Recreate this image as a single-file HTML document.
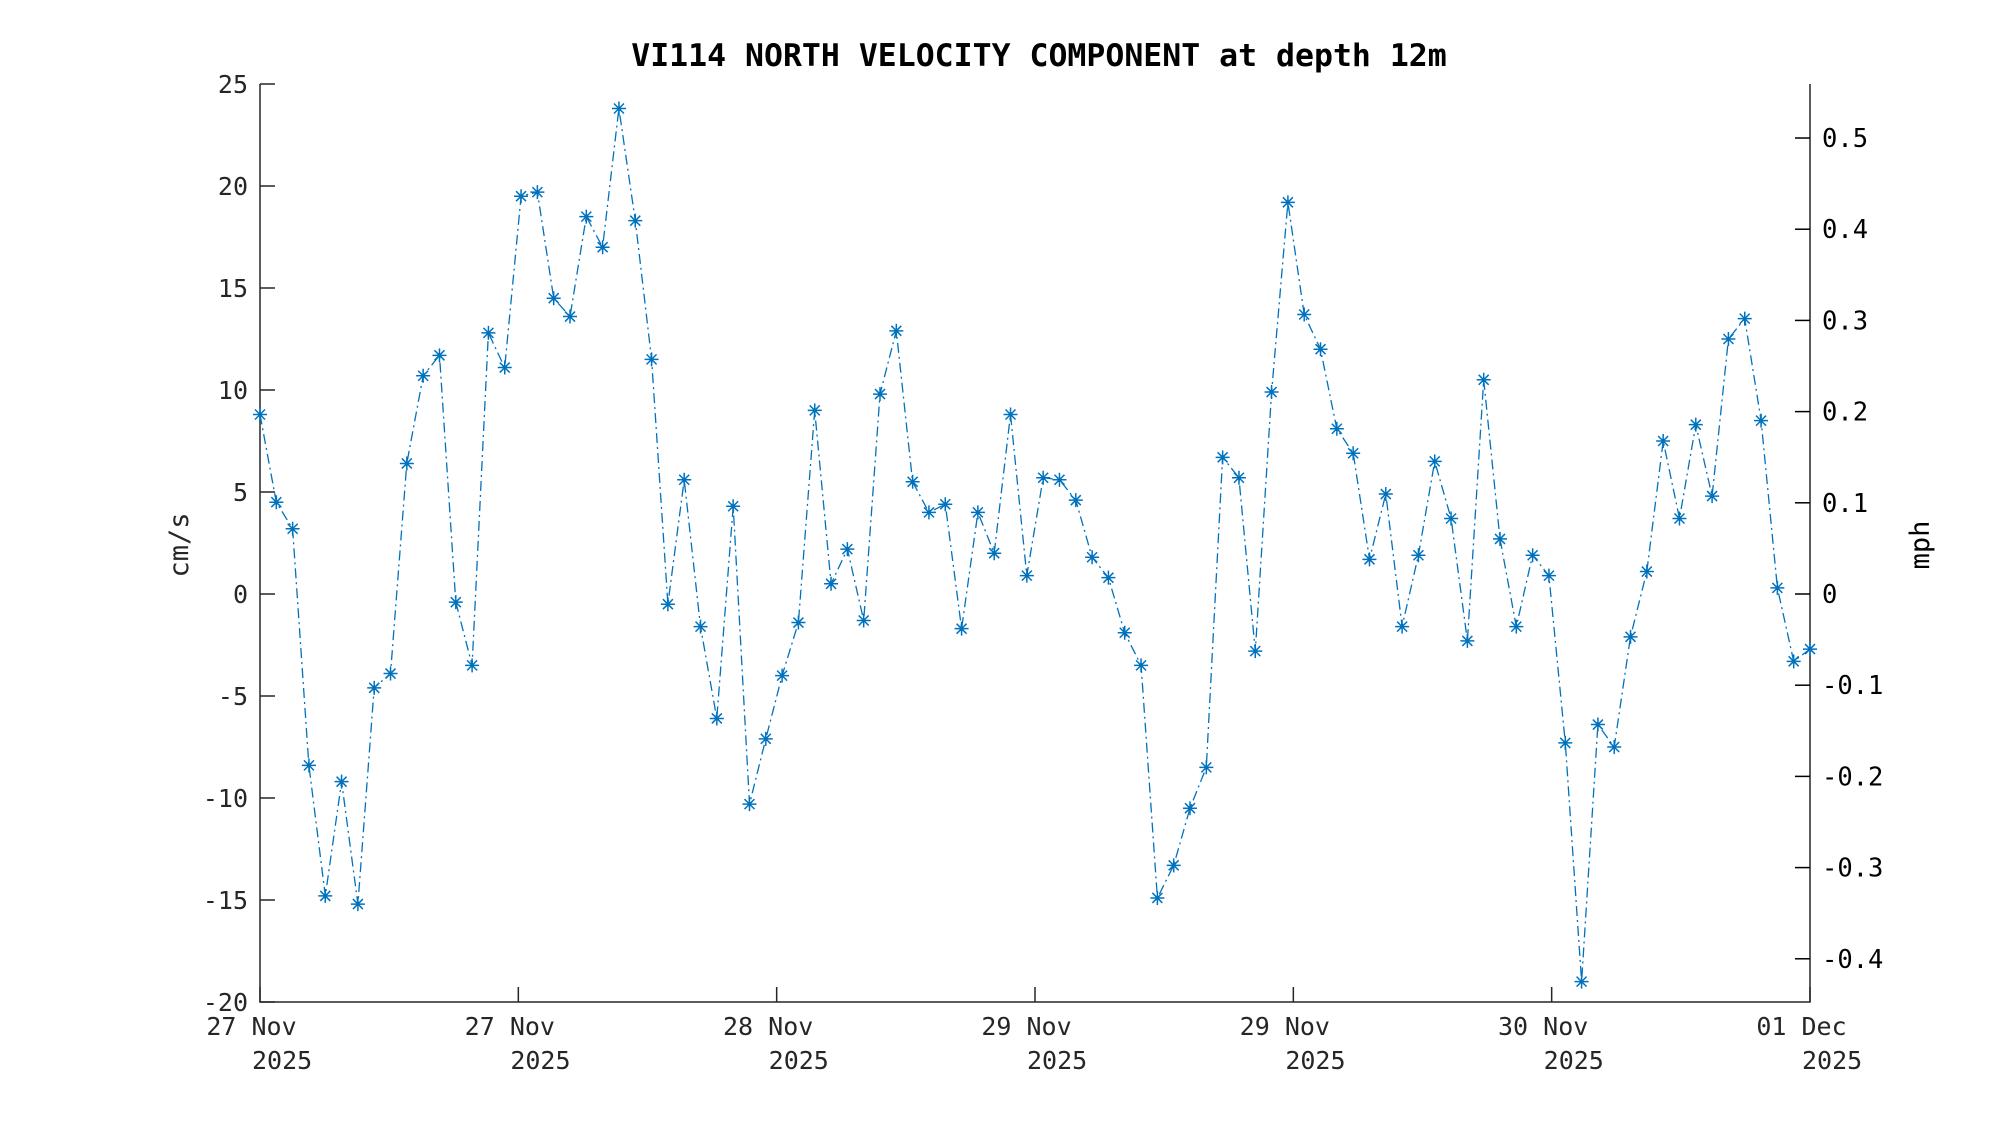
<!DOCTYPE html>
<html><head><meta charset="utf-8"><style>
html,body{margin:0;padding:0;background:#fff;}
svg text{font-family:"DejaVu Sans Mono","Liberation Mono",monospace;}
</style></head><body>
<svg id="s" width="2000" height="1125" xmlns="http://www.w3.org/2000/svg">
<rect width="2000" height="1125" fill="#fff"/>
<text x="1039" y="66" text-anchor="middle" font-size="31.5" font-weight="bold" fill="#000">VI114 NORTH VELOCITY COMPONENT at depth 12m</text>
<g id="g"></g>
</svg>
<script>
var L=260,R=1810,T=84,B=1002;
function Y(v){return T+(25-v)*(B-T)/45;}
var d=[8.8,4.5,3.2,-8.4,-14.8,-9.2,-15.2,-4.6,-3.9,6.4,10.7,11.7,-0.4,-3.5,12.8,11.1,19.5,19.7,14.5,13.6,18.5,17.0,23.8,18.3,11.5,-0.5,5.6,-1.6,-6.1,4.3,-10.3,-7.1,-4.0,-1.4,9.0,0.5,2.2,-1.3,9.8,12.9,5.5,4.0,4.4,-1.7,4.0,2.0,8.8,0.9,5.7,5.6,4.6,1.8,0.8,-1.9,-3.5,-14.9,-13.3,-10.5,-8.5,6.7,5.7,-2.8,9.9,19.2,13.7,12.0,8.1,6.9,1.7,4.9,-1.6,1.9,6.5,3.7,-2.3,10.5,2.7,-1.6,1.9,0.9,-7.3,-19.0,-6.4,-7.5,-2.1,1.1,7.5,3.7,8.3,4.8,12.5,13.5,8.5,0.3,-3.3,-2.7];
var h='';
h+='<path d="M'+L+' '+T+'V'+B+'H'+R+'V'+T+'" fill="none" stroke="#262626" stroke-width="1.5"/>';
for(var v=-20;v<=25;v+=5){var y=Y(v);h+='<line x1="'+L+'" x2="'+(L+15)+'" y1="'+y+'" y2="'+y+'" stroke="#262626" stroke-width="1.5"/>';
h+='<text x="'+(L-12)+'" y="'+(y+9)+'" text-anchor="end" font-size="25" fill="#262626">'+v+'</text>';}
var z=Y(0),k=4.4704*(B-T)/45;
for(var m=-4;m<=5;m++){var y=z-m*k;h+='<line x1="'+(R-15)+'" x2="'+R+'" y1="'+y+'" y2="'+y+'" stroke="#000" stroke-width="1.5"/>';
var s=m==0?'0':(m<0?'-':'')+'0.'+Math.abs(m);h+='<text x="'+(R+12)+'" y="'+(y+9)+'" font-size="25.5" fill="#000">'+s+'</text>';}
var lb=['27 Nov','27 Nov','28 Nov','29 Nov','29 Nov','30 Nov','01 Dec'];
for(var i=0;i<7;i++){var x=L+i*(R-L)/6;h+='<line x1="'+x+'" x2="'+x+'" y1="'+B+'" y2="'+(B-15)+'" stroke="#262626" stroke-width="1.5"/>';
h+='<text x="'+(x-8.5)+'" y="1035" text-anchor="middle" font-size="25" fill="#262626">'+lb[i]+'</text>';
h+='<text x="'+(x-8)+'" y="1069" font-size="25" fill="#262626">2025</text>';}
h+='<text transform="translate(188,545) rotate(-90)" text-anchor="middle" font-size="27" fill="#262626">cm/s</text>';
h+='<text transform="translate(1929,545) rotate(-90)" text-anchor="middle" font-size="27" fill="#000">mph</text>';
var p='',mk='';
for(var i=0;i<d.length;i++){var x=L+i*(R-L)/95,y=Y(d[i]);p+=(i?'L':'M')+x.toFixed(1)+' '+y.toFixed(1);
var r=7;mk+='M'+(x-r)+' '+y+'h'+(2*r)+'M'+x+' '+(y-r)+'v'+(2*r)+'M'+(x-5)+' '+(y-5)+'l10 10M'+(x-5)+' '+(y+5)+'l10 -10';}
h+='<path d="'+p+'" fill="none" stroke="#0072BD" stroke-width="1.3" stroke-dasharray="10 4 2 4"/>';
h+='<path d="'+mk+'" fill="none" stroke="#0072BD" stroke-width="1.5"/>';
document.getElementById('g').innerHTML=h;
</script>
</body></html>
